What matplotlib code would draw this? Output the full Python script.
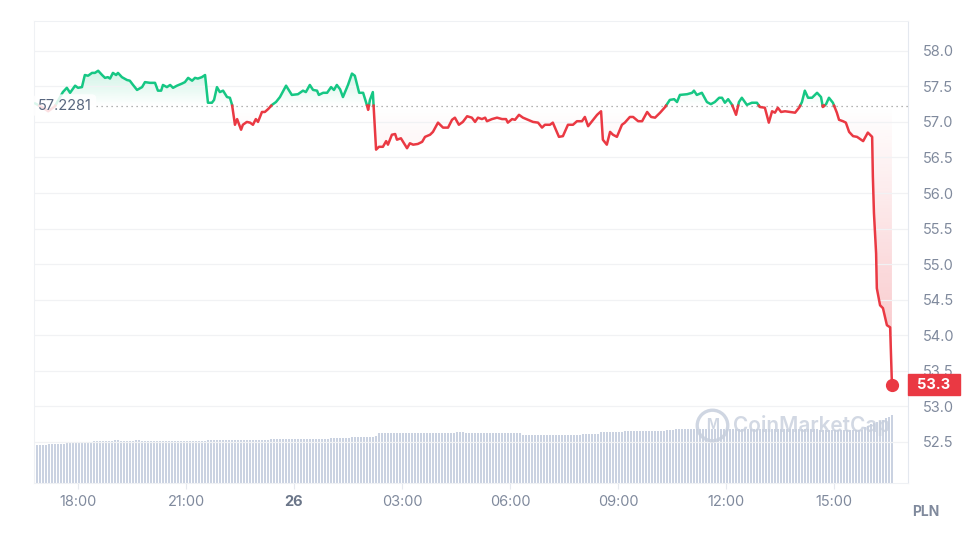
import numpy as np
import matplotlib.pyplot as plt
import matplotlib.colors as mcolors
from matplotlib.path import Path
from matplotlib.patches import Rectangle
from matplotlib.transforms import blended_transform_factory

plt.rcParams['font.family'] = ['Inter', 'DejaVu Sans']

# price in PLN, time in hours from midnight of the 26th (negative = evening of the 25th)
hours = [-7.19, -6.97, -6.83, -6.64, -6.42, -6.31, -6.22, -6.08, -6.00, -5.89,
         -5.81, -5.72, -5.61, -5.53, -5.44, -5.33, -5.25, -5.17, -5.11, -5.03,
         -4.94, -4.89, -4.78, -4.64, -4.56, -4.47, -4.36, -4.22, -4.14, -4.00,
         -3.86, -3.78, -3.69, -3.64, -3.53, -3.44, -3.36, -3.25, -3.11, -3.03,
         -2.94, -2.83, -2.75, -2.67, -2.56, -2.47, -2.39, -2.28, -2.22, -2.14,
         -2.06, -1.97, -1.86, -1.78, -1.72, -1.64, -1.58, -1.47, -1.42, -1.31,
         -1.22, -1.14, -1.06, -1.00, -0.89, -0.81, -0.72, -0.61, -0.50, -0.39,
         -0.22, -0.06, 0.11, 0.25, 0.33, 0.44, 0.53, 0.64, 0.69, 0.81,
         0.92, 1.03, 1.11, 1.19, 1.28, 1.36, 1.50, 1.61, 1.69, 1.81,
         1.92, 2.03, 2.06, 2.11, 2.19, 2.28, 2.36, 2.47, 2.56, 2.61,
         2.72, 2.81, 2.86, 2.97, 3.03, 3.14, 3.22, 3.31, 3.44, 3.56,
         3.64, 3.78, 3.86, 4.00, 4.14, 4.28, 4.39, 4.47, 4.58, 4.69,
         4.81, 4.94, 5.03, 5.11, 5.22, 5.31, 5.36, 5.50, 5.64, 5.78,
         5.89, 5.94, 6.06, 6.14, 6.25, 6.36, 6.50, 6.64, 6.78, 6.89,
         6.97, 7.11, 7.19, 7.36, 7.47, 7.61, 7.75, 7.86, 8.00, 8.08,
         8.17, 8.28, 8.42, 8.53, 8.58, 8.69, 8.78, 8.86, 8.97, 9.11,
         9.19, 9.33, 9.42, 9.56, 9.67, 9.81, 9.92, 10.03, 10.17, 10.31,
         10.44, 10.56, 10.64, 10.72, 10.92, 11.06, 11.11, 11.19, 11.33, 11.47,
         11.58, 11.69, 11.81, 11.89, 11.97, 12.06, 12.17, 12.28, 12.36, 12.44,
         12.58, 12.72, 12.86, 12.94, 13.08, 13.19, 13.28, 13.36, 13.44, 13.53,
         13.64, 13.78, 13.92, 14.03, 14.11, 14.19, 14.28, 14.39, 14.53, 14.64,
         14.69, 14.78, 14.86, 14.97, 15.08, 15.14, 15.25, 15.33, 15.42, 15.53,
         15.64, 15.81, 15.94, 16.06, 16.08, 16.11, 16.17, 16.19, 16.28, 16.36,
         16.47, 16.56, 16.61]
prices = [57.26, 57.20, 57.15, 57.22, 57.42, 57.48, 57.41, 57.51, 57.48, 57.49,
          57.66, 57.65, 57.69, 57.69, 57.72, 57.66, 57.62, 57.63, 57.61, 57.69,
          57.66, 57.69, 57.63, 57.59, 57.58, 57.52, 57.45, 57.49, 57.56, 57.55,
          57.55, 57.44, 57.44, 57.52, 57.49, 57.52, 57.48, 57.51, 57.54, 57.56,
          57.62, 57.58, 57.62, 57.61, 57.63, 57.66, 57.27, 57.27, 57.31, 57.49,
          57.42, 57.44, 57.35, 57.34, 57.24, 56.96, 57.04, 56.89, 56.96, 57.00,
          56.99, 56.96, 57.04, 57.00, 57.14, 57.14, 57.18, 57.24, 57.28, 57.35,
          57.51, 57.38, 57.39, 57.44, 57.42, 57.52, 57.45, 57.44, 57.38, 57.41,
          57.41, 57.49, 57.45, 57.52, 57.46, 57.35, 57.52, 57.68, 57.65, 57.41,
          57.41, 57.23, 57.17, 57.31, 57.42, 56.61, 56.65, 56.65, 56.73, 56.68,
          56.82, 56.83, 56.75, 56.77, 56.72, 56.63, 56.70, 56.68, 56.69, 56.72,
          56.79, 56.82, 56.86, 56.99, 56.92, 56.92, 57.03, 57.06, 56.96, 57.00,
          57.08, 57.06, 57.00, 57.06, 57.04, 57.06, 57.01, 57.04, 57.06, 57.04,
          57.04, 56.99, 57.04, 57.03, 57.10, 57.06, 57.03, 57.00, 56.99, 56.92,
          56.96, 56.96, 56.99, 56.79, 56.80, 56.96, 56.96, 57.01, 57.01, 57.07,
          56.94, 57.01, 57.10, 57.15, 56.75, 56.68, 56.86, 56.82, 56.79, 56.96,
          56.99, 57.07, 57.07, 57.01, 57.01, 57.14, 57.07, 57.06, 57.13, 57.21,
          57.31, 57.32, 57.28, 57.38, 57.39, 57.41, 57.44, 57.38, 57.41, 57.28,
          57.25, 57.28, 57.34, 57.34, 57.27, 57.32, 57.24, 57.10, 57.28, 57.34,
          57.24, 57.27, 57.27, 57.21, 57.20, 56.99, 57.15, 57.13, 57.20, 57.14,
          57.15, 57.14, 57.13, 57.20, 57.28, 57.44, 57.34, 57.34, 57.41, 57.35,
          57.21, 57.25, 57.34, 57.27, 57.13, 57.03, 57.01, 56.99, 56.86, 56.80,
          56.79, 56.73, 56.85, 56.79, 56.23, 55.72, 55.15, 54.66, 54.42, 54.38,
          54.14, 54.11, 53.30]
ref_price = 57.2281

# volume bars, one every 5 minutes starting 16:47 (relative units)
vol_start = -7.222
volumes = ([38] * 5 + [39] * 6 + [41] * 9 + [42] * 7 + [43] * 2 + [42] * 5 +
           [43] * 2 + [42] * 22 + [43] * 21 + [44] * 20 + [45] * 7 + [46] * 8 +
           [47] * 1 + [50] * 26 + [51] * 3 + [50] * 19 + [48] * 20 + [49] * 6 +
           [51] * 8 + [52] * 14 + [53] * 3 + [54] * 48 + [53] * 15 +
           [56, 57, 59, 60, 61, 62, 63, 65, 66, 68])

tick_hours = [-6, -3, 0, 3, 6, 9, 12, 15]
tick_labels = ['18:00', '21:00', '26', '03:00', '06:00', '09:00', '12:00', '15:00']
y_ticks = [52.5, 53.0, 53.5, 54.0, 54.5, 55.0, 55.5, 56.0, 56.5, 57.0, 57.5, 58.0]

green = '#16c784'
red = '#ea3943'
grey = '#808a9d'

t = np.array(hours)
p = np.array(prices)

# add points where the line crosses the reference price so colours switch cleanly
tt, pp = [t[0]], [p[0]]
for i in range(1, len(t)):
    a, b = p[i - 1] - ref_price, p[i] - ref_price
    if a * b < 0:
        f = a / (a - b)
        tt.append(t[i - 1] + f * (t[i] - t[i - 1]))
        pp.append(ref_price)
    tt.append(t[i])
    pp.append(p[i])
tt = np.array(tt)
pp = np.array(pp)

fig = plt.figure(figsize=(9.78, 5.38), dpi=100)
rect = [34 / 978, 1 - 483 / 538, 874 / 978, 462 / 538]

# volume axis underneath
axv = fig.add_axes(rect)
vol_t = vol_start + np.arange(len(volumes)) / 12
axv.bar(vol_t, volumes, width=0.6 / 12, color='#cad2e1', linewidth=0)
axv.set_ylim(0, 462)
axv.set_xlim(-7.222, 17.056)
axv.axis('off')

ax = fig.add_axes(rect, sharex=axv)
ax.set_zorder(2)
ax.patch.set_visible(False)
ax.set_ylim(51.92, 58.42)


def grad_fill(y_line, color, a_low, a_high, ylo, yhi):
    poly = ax.fill_between(tt, ref_price, y_line, color='none', lw=0)
    path = Path.make_compound_path(*poly.get_paths())
    img = np.zeros((200, 1, 4))
    img[..., :3] = mcolors.to_rgb(color)
    img[:, 0, 3] = np.linspace(a_low, a_high, 200)
    im = ax.imshow(img, extent=[tt.min(), tt.max(), ylo, yhi], origin='lower',
                   aspect='auto', zorder=1, interpolation='bilinear')
    im.set_clip_path(path, transform=ax.transData)


grad_fill(np.maximum(pp, ref_price), green, 0.0, 0.2, ref_price, pp.max())
grad_fill(np.minimum(pp, ref_price), red, 0.32, 0.0, pp.min(), ref_price)
ax.set_xlim(-7.222, 17.056)
ax.set_ylim(51.92, 58.42)

ax.plot(tt, np.where(pp >= ref_price, pp, np.nan), color=green, lw=1.8, zorder=3)
ax.plot(tt, np.where(pp <= ref_price, pp, np.nan), color=red, lw=1.8, zorder=3)
ax.plot(t[-1], p[-1], 'o', ms=8.5, color=red, zorder=4)

# reference price
ax.axhline(ref_price, xmin=62 / 874, xmax=1, color='#9a9a9a', lw=0.9,
           ls=(0, (1, 3)), zorder=2)
ax.text(4 / 874, ref_price, '57.2281', transform=blended_transform_factory(ax.transAxes, ax.transData),
        ha='left', va='center', fontsize=10.5, color='#58667e', zorder=5,
        bbox=dict(boxstyle='round,pad=0.3', fc='white', ec='none', alpha=0.85))

# last price tag
bt = blended_transform_factory(ax.transAxes, ax.transData)
ax.add_patch(Rectangle((1.0, p[-1] - 0.148), 52 / 874, 0.296, transform=bt,
                       color=red, clip_on=False, zorder=6))
ax.text(1 + 26 / 874, p[-1], '53.3', transform=bt, ha='center', va='center',
        color='white', fontsize=10.5, fontweight='bold', zorder=7, clip_on=False)

# axes styling
ax.set_yticks(y_ticks)
ax.set_yticklabels([f'{v:.1f}' for v in y_ticks])
ax.yaxis.tick_right()
ax.tick_params(axis='y', length=0, pad=11, labelsize=10.5, labelcolor=grey)
ax.grid(axis='y', color='#f1f2f4', lw=0.9, zorder=0)
ax.set_xticks(tick_hours)
ax.set_xticklabels(tick_labels)
ax.tick_params(axis='x', length=4, width=0.8, color='#e6e9ee', pad=5,
               labelsize=10.5, labelcolor=grey)
ax.get_xticklabels()[2].set_fontweight('bold')
ax.get_xticklabels()[2].set_color('#6b7689')
for side in ['top', 'left', 'bottom']:
    ax.spines[side].set_color('#eff1f4')
ax.spines['right'].set_color('#e4e8ef')

# watermark
ax.plot(0.776, 0.1255, 'o', ms=22, mfc='none', mec='#c7cfdd', mew=2.4,
        transform=ax.transAxes, alpha=0.85, zorder=2)
ax.text(0.776, 0.1255, 'M', transform=ax.transAxes, ha='center', va='center',
        fontsize=10, fontweight='bold', color='#c7cfdd', alpha=0.85, zorder=2)
ax.text(0.800, 0.1255, 'CoinMarketCap', transform=ax.transAxes, ha='left', va='center',
        fontsize=15, fontweight='semibold', color='#c7cfdd', alpha=0.8, zorder=2)

fig.text(912 / 978, 1 - 512 / 538, 'PLN', ha='left', va='center', fontsize=10,
         fontweight='bold', color=grey)

fig.savefig('out.png', dpi=100)
